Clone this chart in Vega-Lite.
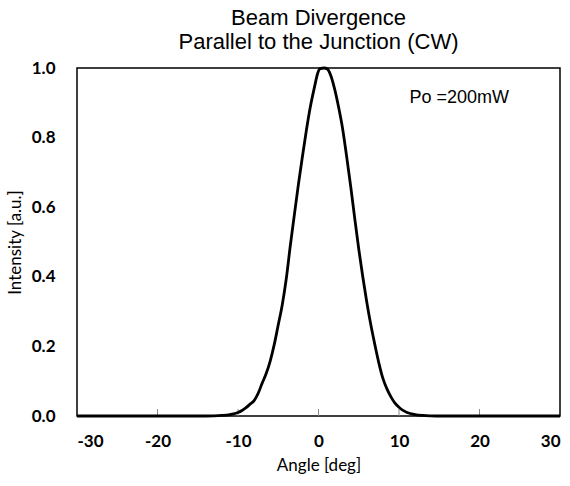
{
  "$schema": "https://vega.github.io/schema/vega-lite/v6.json",
  "autosize": "none",
  "padding": {"left": 77, "top": 68, "right": 10, "bottom": 70},
  "width": 483,
  "height": 348,
  "background": "white",
  "title": {
    "text": ["Beam Divergence", "Parallel to the Junction (CW)"],
    "font": "Liberation Sans",
    "fontSize": 22,
    "fontWeight": "normal",
    "color": "#000000",
    "lineHeight": 24,
    "anchor": "middle",
    "offset": 5
  },
  "config": {
    "view": {"stroke": "#000000", "strokeWidth": 1.5},
    "axis": {"grid": false, "domain": false}
  },
  "data": {
    "values": [
      {"angle": -30, "intensity": 0},
      {"angle": -20, "intensity": 0},
      {"angle": -15, "intensity": 0},
      {"angle": -13, "intensity": 0.0005},
      {"angle": -12, "intensity": 0.0015},
      {"angle": -11, "intensity": 0.004},
      {"angle": -10, "intensity": 0.01},
      {"angle": -9.5, "intensity": 0.016},
      {"angle": -9, "intensity": 0.024},
      {"angle": -8.5, "intensity": 0.034},
      {"angle": -8, "intensity": 0.044},
      {"angle": -7.5, "intensity": 0.065},
      {"angle": -7, "intensity": 0.094},
      {"angle": -6.5, "intensity": 0.122},
      {"angle": -6, "intensity": 0.158},
      {"angle": -5.5, "intensity": 0.205},
      {"angle": -5, "intensity": 0.262},
      {"angle": -4.5, "intensity": 0.32},
      {"angle": -4, "intensity": 0.395},
      {"angle": -3.5, "intensity": 0.49},
      {"angle": -3, "intensity": 0.578},
      {"angle": -2.5, "intensity": 0.665},
      {"angle": -2, "intensity": 0.745},
      {"angle": -1.5, "intensity": 0.822},
      {"angle": -1, "intensity": 0.89},
      {"angle": -0.5, "intensity": 0.945},
      {"angle": -0.1, "intensity": 0.985},
      {"angle": 0.2, "intensity": 0.998},
      {"angle": 0.7, "intensity": 1.0},
      {"angle": 1.1, "intensity": 0.997},
      {"angle": 1.5, "intensity": 0.98},
      {"angle": 2, "intensity": 0.94},
      {"angle": 2.5, "intensity": 0.887},
      {"angle": 3, "intensity": 0.825},
      {"angle": 3.5, "intensity": 0.745},
      {"angle": 4, "intensity": 0.66},
      {"angle": 4.5, "intensity": 0.568},
      {"angle": 5, "intensity": 0.48},
      {"angle": 5.5, "intensity": 0.4},
      {"angle": 6, "intensity": 0.327},
      {"angle": 6.5, "intensity": 0.262},
      {"angle": 7, "intensity": 0.205},
      {"angle": 7.5, "intensity": 0.152},
      {"angle": 8, "intensity": 0.108},
      {"angle": 8.5, "intensity": 0.078},
      {"angle": 9, "intensity": 0.055},
      {"angle": 9.5, "intensity": 0.037},
      {"angle": 10, "intensity": 0.025},
      {"angle": 10.5, "intensity": 0.016},
      {"angle": 11, "intensity": 0.01},
      {"angle": 12, "intensity": 0.004},
      {"angle": 13, "intensity": 0.0015},
      {"angle": 14, "intensity": 0.0005},
      {"angle": 15, "intensity": 0},
      {"angle": 20, "intensity": 0},
      {"angle": 25, "intensity": 0},
      {"angle": 30, "intensity": 0}
    ]
  },
  "layer": [
    {
      "data": {"values": [{"t": -20}, {"t": -10}, {"t": 0}, {"t": 10}, {"t": 20}]},
      "mark": {"type": "rule", "color": "#888888", "strokeWidth": 1},
      "encoding": {
        "x": {"field": "t", "type": "quantitative"},
        "y": {"datum": 0, "type": "quantitative"},
        "y2": {"datum": 0.02}
      }
    },
    {
      "mark": {"type": "line", "color": "#000000", "strokeWidth": 2.8, "interpolate": "monotone"},
      "encoding": {
        "x": {
          "field": "angle", "type": "quantitative",
          "scale": {"domain": [-30, 30], "nice": false},
          "axis": {
            "values": [-30, -20, -10, 0, 10, 20, 30],
            "labelExpr": "'' + datum.value",
            "title": "Angle [deg]",
            "titleFont": "Lato", "titleFontSize": 17, "titleFontWeight": "normal", "titleColor": "#000000",
            "titlePadding": 8,
            "labelFont": "Lato", "labelFontSize": 17, "labelFontWeight": "bold", "labelColor": "#000000",
            "ticks": false,
            "labelPadding": 17
          }
        },
        "y": {
          "field": "intensity", "type": "quantitative",
          "scale": {"domain": [0, 1], "nice": false},
          "axis": {
            "values": [0, 0.2, 0.4, 0.6, 0.8, 1.0],
            "format": ".1f",
            "title": "Intensity [a.u.]",
            "titleFont": "Lato", "titleFontSize": 17, "titleFontWeight": "normal", "titleColor": "#000000",
            "titlePadding": 7,
            "labelFont": "Lato", "labelFontSize": 17, "labelFontWeight": "bold", "labelColor": "#000000",
            "ticks": false, "labelPadding": 22
          }
        }
      }
    },
    {
      "data": {"values": [{"angle": 11.3, "intensity": 0.915, "label": "Po =200mW"}]},
      "mark": {"type": "text", "align": "left", "baseline": "middle", "font": "Liberation Sans", "fontSize": 18, "color": "#000000"},
      "encoding": {
        "x": {"field": "angle", "type": "quantitative"},
        "y": {"field": "intensity", "type": "quantitative"},
        "text": {"field": "label"}
      }
    }
  ]
}
